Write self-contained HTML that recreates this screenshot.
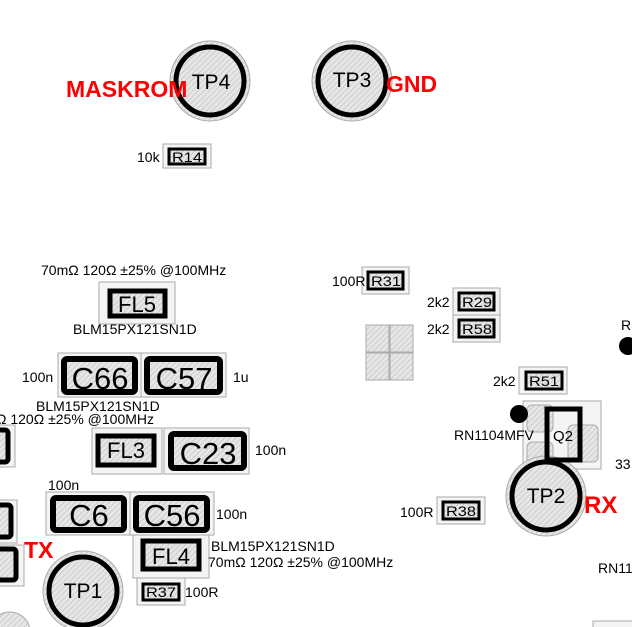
<!DOCTYPE html>
<html><head><meta charset="utf-8"><style>
html,body{margin:0;padding:0;background:#fff;}
svg{display:block;}
text{font-family:"Liberation Sans",sans-serif;}
</style></head><body>
<svg width="632" height="627" viewBox="0 0 632 627" xmlns="http://www.w3.org/2000/svg">
<defs>
<pattern id="h" width="4" height="4" patternUnits="userSpaceOnUse" patternTransform="rotate(45)">
<rect width="4" height="4" fill="#e6e6e6"/><line x1="0" y1="0" x2="0" y2="4" stroke="#c2c2c2" stroke-width="1.4"/>
</pattern>
</defs>
<g stroke="#aaa" stroke-width="1" fill="#f4f4f4">
<rect x="163" y="144" width="48" height="24"/>
<rect x="99" y="282" width="76" height="42"/>
<rect x="58" y="353" width="83" height="44"/>
<rect x="141" y="353" width="85" height="44"/>
<rect x="92" y="428" width="70" height="46"/>
<rect x="164" y="428" width="85" height="46"/>
<rect x="46" y="492" width="84" height="43"/>
<rect x="130" y="492" width="84" height="43"/>
<rect x="133" y="535" width="76" height="43"/>
<rect x="137" y="578" width="48" height="27"/>
<rect x="-5" y="425" width="20" height="42"/>
<rect x="-5" y="500" width="22" height="43"/>
<rect x="-5" y="545" width="29" height="41"/>
<rect x="362" y="267" width="47" height="27"/>
<rect x="453" y="288" width="47" height="27"/>
<rect x="453" y="315" width="47" height="27"/>
<rect x="519" y="367" width="48" height="27"/>
<rect x="437" y="497" width="48" height="27"/>
<rect x="523" y="401" width="78" height="68"/>
<rect x="593" y="621" width="45" height="10"/>
</g>
<g fill="url(#h)" stroke="#aaa" stroke-width="1">
<rect x="366" y="325" width="23" height="27"/><rect x="390" y="325" width="23" height="27"/>
<rect x="366" y="353" width="23" height="27"/><rect x="390" y="353" width="23" height="27"/>
<rect x="527" y="405" width="26" height="27" rx="5"/><rect x="527" y="442" width="26" height="28" rx="5"/>
<rect x="568" y="425" width="30" height="37" rx="5"/>
<circle cx="210" cy="81" r="40"/><circle cx="352" cy="81" r="40"/>
<circle cx="546" cy="496" r="40"/><circle cx="83" cy="591" r="40"/>
<circle cx="10" cy="632" r="20"/>
</g>
<g fill="url(#h)" stroke="#000" stroke-width="5">
<circle cx="210" cy="81" r="34"/><circle cx="352" cy="81" r="34"/>
<circle cx="546" cy="496" r="34"/><circle cx="83" cy="591" r="34"/>
</g>
<g fill="url(#h)" stroke="#000">
<rect x="169" y="149" width="36" height="15" stroke-width="3"/>
<rect x="110" y="291" width="55" height="25" stroke-width="5"/>
<rect x="64" y="359" width="71" height="33" stroke-width="6" rx="3"/>
<rect x="147" y="359" width="73" height="33" stroke-width="6" rx="3"/>
<rect x="98" y="436" width="56" height="29" stroke-width="5"/>
<rect x="171" y="434" width="73" height="34" stroke-width="6" rx="3"/>
<rect x="-10" y="430" width="18" height="32" stroke-width="5" rx="3"/>
<rect x="53" y="498" width="71" height="32" stroke-width="6" rx="3"/>
<rect x="136" y="498" width="71" height="32" stroke-width="6" rx="3"/>
<rect x="143" y="541" width="56" height="28" stroke-width="5"/>
<rect x="143" y="584" width="36" height="16" stroke-width="3"/>
<rect x="-10" y="505" width="21" height="32" stroke-width="5" rx="3"/>
<rect x="-10" y="549" width="26" height="31" stroke-width="5" rx="3"/>
<rect x="368" y="272" width="35" height="17" stroke-width="3"/>
<rect x="459" y="293" width="35" height="17" stroke-width="3"/>
<rect x="459" y="320" width="35" height="17" stroke-width="3"/>
<rect x="526" y="372" width="36" height="17" stroke-width="3"/>
<rect x="443" y="502" width="36" height="17" stroke-width="3"/>
</g>
<rect x="547" y="409" width="33" height="51" fill="none" stroke="#000" stroke-width="5"/>
<circle cx="519" cy="414" r="9" fill="#000"/>
<circle cx="628" cy="346" r="9" fill="#000"/>
<g fill="#000" font-size="14">
<text x="137" y="162">10k</text>
<text x="41" y="275">70mΩ 120Ω ±25% @100MHz</text>
<text x="73" y="334">BLM15PX121SN1D</text>
<text x="22" y="382">100n</text>
<text x="233" y="382">1u</text>
<text x="36" y="411">BLM15PX121SN1D</text>
<text x="-4" y="424">Ω 120Ω ±25% @100MHz</text>
<text x="255" y="455">100n</text>
<text x="48" y="490">100n</text>
<text x="216" y="519">100n</text>
<text x="211" y="551">BLM15PX121SN1D</text>
<text x="208" y="567">70mΩ 120Ω ±25% @100MHz</text>
<text x="185" y="597">100R</text>
<text x="332" y="286">100R</text>
<text x="427" y="307">2k2</text>
<text x="427" y="334">2k2</text>
<text x="493" y="386">2k2</text>
<text x="454" y="440">RN1104MFV</text>
<text x="400" y="517">100R</text>
<text x="621" y="330">R</text>
<text x="615" y="469">33</text>
<text x="598" y="573">RN11</text>
<text x="553" y="441" font-size="15">Q2</text>
</g>
<g fill="#000" font-size="14">
<text x="172" y="162" textLength="30" lengthAdjust="spacingAndGlyphs">R14</text>
<text x="371" y="286" textLength="30" lengthAdjust="spacingAndGlyphs">R31</text>
<text x="462" y="307" textLength="30" lengthAdjust="spacingAndGlyphs">R29</text>
<text x="462" y="334" textLength="30" lengthAdjust="spacingAndGlyphs">R58</text>
<text x="529" y="386" textLength="30" lengthAdjust="spacingAndGlyphs">R51</text>
<text x="446" y="516" textLength="30" lengthAdjust="spacingAndGlyphs">R38</text>
<text x="146" y="597" textLength="30" lengthAdjust="spacingAndGlyphs">R37</text>
</g>
<g fill="#000" text-anchor="middle">
<text x="137" y="312" font-size="22">FL5</text>
<text x="126" y="458" font-size="22">FL3</text>
<text x="171" y="564" font-size="22">FL4</text>
<text x="100" y="389" font-size="31">C66</text>
<text x="184" y="389" font-size="31">C57</text>
<text x="208" y="464" font-size="31">C23</text>
<text x="89" y="526" font-size="31">C6</text>
<text x="172" y="526" font-size="31">C56</text>
<text x="211" y="89" font-size="21">TP4</text>
<text x="352" y="87" font-size="21">TP3</text>
<text x="546" y="503" font-size="21">TP2</text>
<text x="83" y="598" font-size="21">TP1</text>
</g>
<g fill="#f00" font-weight="bold" font-size="23">
<text x="66" y="97">MASKROM</text>
<text x="386" y="92">GND</text>
<text x="24" y="558">TX</text>
<text x="584" y="513" font-size="24">RX</text>
</g>
</svg>
</body></html>
